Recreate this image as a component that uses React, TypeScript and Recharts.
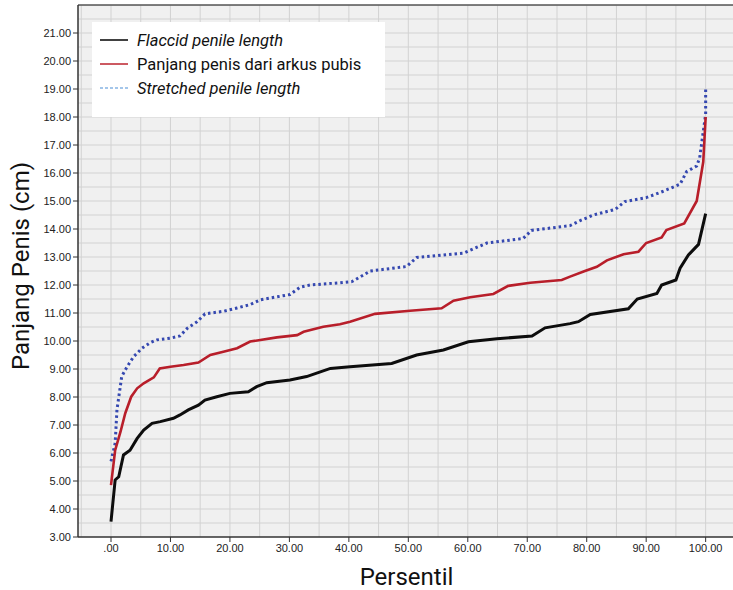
import React from "react";
import {
  LineChart,
  Line,
  XAxis,
  YAxis,
  CartesianGrid,
  ReferenceLine,
} from "recharts";

// percentile (x) and length in cm (y)
const flaccidPct = [0, 0.7, 1.3, 2.1, 3.2, 4.4, 5.5, 6.9, 8.3, 10.5, 11.6, 13, 14.7, 15.8, 17.8, 20, 23.1, 24.5, 26.2, 30.1, 32.9, 35.2, 36.9, 40.2, 47.2, 51.4, 55.9, 60.1, 64.9, 70.8, 73, 77.2, 78.6, 80.6, 87, 88.5, 91.8, 92.6, 95, 95.7, 97.1, 98.8, 100];
const flaccidLen = [3.55, 5.04, 5.15, 5.93, 6.1, 6.52, 6.82, 7.06, 7.12, 7.24, 7.36, 7.54, 7.71, 7.89, 8.01, 8.13, 8.19, 8.37, 8.51, 8.61, 8.73, 8.9, 9.02, 9.08, 9.2, 9.5, 9.68, 9.97, 10.08, 10.18, 10.47, 10.62, 10.69, 10.95, 11.15, 11.5, 11.7, 12.0, 12.18, 12.6, 13.07, 13.45, 14.55];

const pubisPct = [0, 0.7, 1.6, 2.4, 3.4, 4.4, 5.5, 7.2, 8.2, 10, 12.2, 14.7, 16.7, 18.9, 21.2, 23.4, 27.9, 31.3, 32.4, 35.7, 38.5, 40.2, 44.4, 50.3, 55.6, 57.6, 60.4, 64.3, 66.8, 70.5, 75.8, 77.2, 79.7, 81.7, 83.4, 86.2, 88.7, 90, 92.6, 93.4, 96.4, 98.5, 99.6, 100];
const pubisLen = [4.85, 6.1, 6.76, 7.42, 8.01, 8.31, 8.49, 8.7, 9.02, 9.08, 9.14, 9.23, 9.5, 9.62, 9.74, 9.98, 10.13, 10.21, 10.33, 10.51, 10.6, 10.69, 10.97, 11.08, 11.17, 11.44, 11.56, 11.68, 11.97, 12.08, 12.18, 12.3, 12.5, 12.65, 12.88, 13.1, 13.19, 13.5, 13.7, 13.96, 14.2, 15.0, 16.4, 18.0];

const stretchedPct = [0, 0.7, 1.0, 1.8, 2.7, 3.8, 5.2, 6.6, 7.7, 10, 11.6, 12.8, 14.5, 15.8, 18.9, 21.2, 23.4, 25.1, 30.1, 31.8, 33.5, 38.5, 40.5, 43.6, 49.7, 51.4, 59.3, 63.2, 69.3, 70.7, 77.2, 78.9, 81.1, 84.8, 86.4, 90, 92.3, 95.7, 96.8, 98.5, 99, 100, 100];
const stretchedLen = [5.7, 6.35, 7.54, 8.73, 9.08, 9.44, 9.74, 9.94, 10.04, 10.1, 10.18, 10.45, 10.69, 10.97, 11.06, 11.18, 11.3, 11.47, 11.66, 11.92, 12.0, 12.08, 12.12, 12.5, 12.66, 12.98, 13.14, 13.5, 13.66, 13.95, 14.12, 14.3, 14.5, 14.7, 14.98, 15.12, 15.3, 15.6, 16.05, 16.25, 16.55, 18.1, 19.0];

const xTicks = [0, 10, 20, 30, 40, 50, 60, 70, 80, 90, 100];
const yTicks = [3, 4, 5, 6, 7, 8, 9, 10, 11, 12, 13, 14, 15, 16, 17, 18, 19, 20, 21];

const toPoints = (xs: number[], ys: number[]) =>
  xs.map((x, i) => ({ x, y: ys[i] }));

const flaccid = toPoints(flaccidPct, flaccidLen);
const pubis = toPoints(pubisPct, pubisLen);
const stretched = toPoints(stretchedPct, stretchedLen);

// grid every 5 percentile / 0.5 cm
const vGrid: number[] = [];
for (let v = -5; v <= 105; v += 5) vGrid.push(v);
const hGrid: number[] = [];
for (let v = 3.5; v <= 22; v += 0.5) hGrid.push(v);

const legendItems = [
  { name: "Flaccid penile length", color: "#111", dash: undefined, italic: true },
  { name: "Panjang penis dari arkus pubis", color: "#c0303a", dash: undefined, italic: false },
  { name: "Stretched penile length", color: "#86b4e3", dash: "3 2", italic: true },
];

const LegendBox = () => (
  <div
    style={{
      position: "absolute",
      left: 92,
      top: 22,
      background: "#fff",
      width: 293,
      height: 95,
      boxSizing: "border-box",
      paddingTop: 6,
      paddingLeft: 8,
      fontFamily: "Roboto, sans-serif",
      fontSize: 16.5,
      color: "#111",
    }}
  >
    {legendItems.map((it) => (
      <div
        key={it.name}
        style={{ display: "flex", alignItems: "center", height: 24 }}
      >
        <svg width={28} height={4} style={{ marginRight: 9 }}>
          <line
            x1={0}
            y1={2}
            x2={28}
            y2={2}
            stroke={it.color}
            strokeWidth={1.6}
            strokeDasharray={it.dash}
          />
        </svg>
        <span style={{ fontStyle: it.italic ? "italic" : "normal" }}>
          {it.name}
        </span>
      </div>
    ))}
  </div>
);

export default function App() {
  return (
    <div style={{ position: "absolute", left: 0, top: 0, width: 733, height: 590, background: "#fff" }}>
      <LineChart
        width={733}
        height={590}
        margin={{ top: 5, right: 0, left: 0, bottom: 0 }}
      >
        <CartesianGrid
          fill="#f0f0f0"
          stroke="#f0f0f0"
          horizontal={false}
          vertical={false}
        />
        {vGrid.map((v) => (
          <ReferenceLine key={"v" + v} x={v} stroke="#d2d2d2" strokeWidth={1} ifOverflow="hidden" />
        ))}
        {hGrid.map((v) => (
          <ReferenceLine key={"h" + v} y={v} stroke="#d2d2d2" strokeWidth={1} ifOverflow="hidden" />
        ))}
        <ReferenceLine y={22} stroke="#555" strokeWidth={1.5} />
        <XAxis
          dataKey="x"
          type="number"
          domain={[-5.55, 104.6]}
          ticks={xTicks}
          allowDataOverflow
          tickFormatter={(v: number) => (v === 0 ? ".00" : v.toFixed(2))}
          tick={{ fontSize: 11, fill: "#222", fontFamily: "Liberation Sans, Arial, sans-serif" }}
          tickSize={5}
          tickLine={{ stroke: "#333" }}
          axisLine={{ stroke: "#333", strokeWidth: 1.5 }}
          height={53}
          label={{
            value: "Persentil",
            position: "insideBottom",
            offset: 5,
            dx: 1,
            style: { fontSize: 24, fill: "#111", fontFamily: "Roboto, sans-serif" },
          }}
        />
        <YAxis
          dataKey="y"
          type="number"
          domain={[3, 22]}
          ticks={yTicks}
          allowDataOverflow
          tickFormatter={(v: number) => v.toFixed(2)}
          tick={{ fontSize: 11, fill: "#222", fontFamily: "Liberation Sans, Arial, sans-serif" }}
          tickSize={5}
          tickLine={{ stroke: "#333" }}
          axisLine={{ stroke: "#333", strokeWidth: 1.5 }}
          width={78}
          label={{
            value: "Panjang Penis (cm)",
            angle: -90,
            position: "insideLeft",
            offset: 20,
            dy: -5,
            style: { textAnchor: "middle", fontSize: 24, fill: "#111", fontFamily: "Roboto, sans-serif" },
          }}
        />
        <Line
          data={stretched}
          dataKey="y"
          name="Stretched penile length"
          type="linear"
          stroke="#3548b0"
          strokeWidth={3}
          strokeDasharray="2.5 3"
          dot={false}
          isAnimationActive={false}
        />
        <Line
          data={pubis}
          dataKey="y"
          name="Panjang penis dari arkus pubis"
          type="linear"
          stroke="#b81e2a"
          strokeWidth={2.6}
          dot={false}
          isAnimationActive={false}
        />
        <Line
          data={flaccid}
          dataKey="y"
          name="Flaccid penile length"
          type="linear"
          stroke="#0d0d0d"
          strokeWidth={3}
          dot={false}
          isAnimationActive={false}
        />
      </LineChart>
      <LegendBox />
    </div>
  );
}
